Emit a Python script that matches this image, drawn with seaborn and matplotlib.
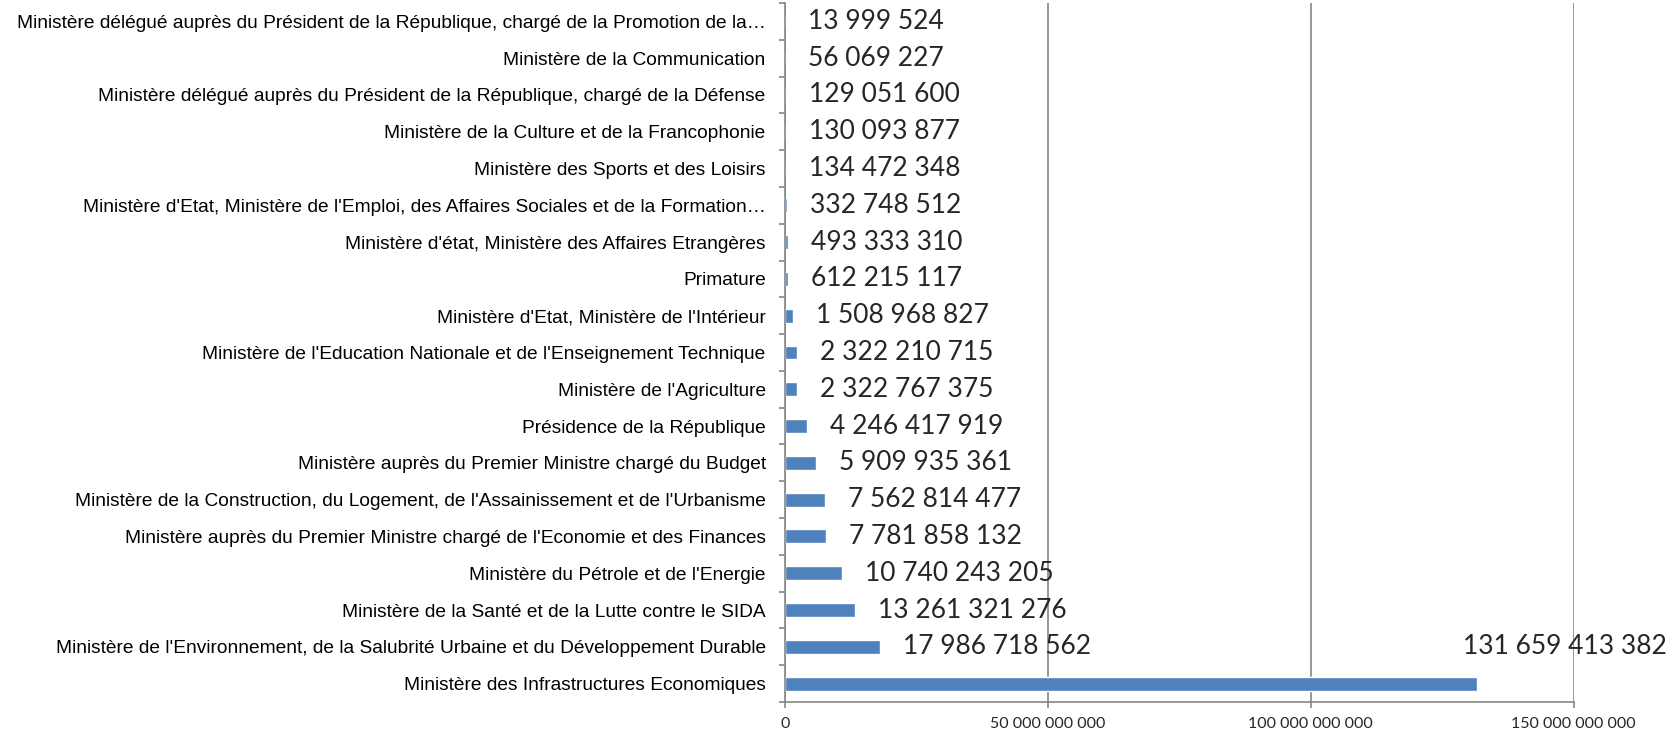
import matplotlib
matplotlib.use("Agg")
import matplotlib.pyplot as plt
import seaborn as sns
import pandas as pd
from matplotlib.ticker import FuncFormatter, FixedLocator

categories = [
    "Ministère délégué auprès du Président de la République, chargé de la Promotion de la…",
    "Ministère de la Communication",
    "Ministère délégué auprès du Président de la République, chargé de la Défense",
    "Ministère de la Culture et de la Francophonie",
    "Ministère des Sports et des Loisirs",
    "Ministère d'Etat, Ministère de l'Emploi, des Affaires Sociales et de la Formation…",
    "Ministère d'état, Ministère des Affaires Etrangères",
    "Primature",
    "Ministère d'Etat, Ministère de l'Intérieur",
    "Ministère de l'Education Nationale et de l'Enseignement Technique",
    "Ministère de l'Agriculture",
    "Présidence de la République",
    "Ministère auprès du Premier Ministre chargé du Budget",
    "Ministère de la Construction, du Logement, de l'Assainissement et de l'Urbanisme",
    "Ministère auprès du Premier Ministre chargé de l'Economie et des Finances",
    "Ministère du Pétrole et de l'Energie",
    "Ministère de la Santé et de la Lutte contre le SIDA",
    "Ministère de l'Environnement, de la Salubrité Urbaine et du Développement Durable",
    "Ministère des Infrastructures Economiques",
]
values = [
    13999524, 56069227, 129051600, 130093877, 134472348, 332748512,
    493333310, 612215117, 1508968827, 2322210715, 2322767375,
    4246417919, 5909935361, 7562814477, 7781858132, 10740243205,
    13261321276, 17986718562, 131659413382,
]
x_ticks = [0, 50_000_000_000, 100_000_000_000, 150_000_000_000]

def fmt_space(v):
    return f"{int(round(v)):,}".replace(",", " ")

df = pd.DataFrame({"cat": categories, "val": values})

sns.set_theme(style="white")
plt.rcParams["font.family"] = ["Liberation Sans", "DejaVu Sans"]

fig = plt.figure(figsize=(16.67, 7.41), dpi=100)
ax = fig.add_axes([0.471, 0.0526, 0.944 - 0.471, 0.996 - 0.0526])

sns.barplot(data=df, y="cat", x="val", orient="h", color="#4F81BD",
            saturation=1, width=0.38, ax=ax, zorder=3)

n = len(categories)
ax.set_xlim(0, x_ticks[-1])
ax.set_ylim(n - 0.5, -0.5)
ax.set_xlabel("")
ax.set_ylabel("")

ax.set_xticks(x_ticks)
ax.xaxis.set_major_formatter(FuncFormatter(lambda v, p: fmt_space(v)))
ax.grid(axis="x", color="#868686", linewidth=1.2, zorder=0)
ax.grid(axis="y", visible=False)

for s in ["top", "right"]:
    ax.spines[s].set_visible(False)
for s in ["left", "bottom"]:
    ax.spines[s].set_color("#868686")
    ax.spines[s].set_linewidth(1.2)
    ax.spines[s].set_zorder(4)

ax.tick_params(axis="y", which="major", length=0, pad=14, labelsize=13.8,
               labelcolor="#000000")
ax.yaxis.set_minor_locator(FixedLocator([i - 0.5 for i in range(n + 1)]))
ax.tick_params(axis="y", which="minor", length=4, width=1.2, color="#868686",
               direction="out", left=True)
ax.tick_params(axis="x", which="major", length=4, width=1.2, color="#868686",
               direction="out", bottom=True, pad=7)
for lbl in ax.get_xticklabels():
    lbl.set_fontfamily(["Lato", "DejaVu Sans"])
    lbl.set_fontsize(11.5)

for i, v in enumerate(values):
    if i == n - 1:
        offset = (-14, 37)
    else:
        offset = (23, 0)
    ax.annotate(fmt_space(v), xy=(v, i), xytext=offset,
                textcoords="offset pixels",
                ha="left", va="center", fontsize=19,
                fontfamily=["Lato", "DejaVu Sans"], zorder=5)

fig.savefig("out.png", dpi=100)
